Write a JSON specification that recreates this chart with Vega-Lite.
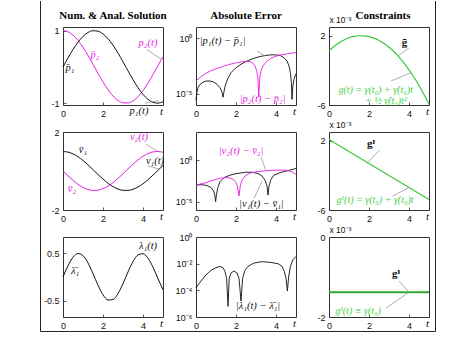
{
"$schema": "https://vega.github.io/schema/vega-lite/v6.json",
"padding": {"left": 39, "top": 0, "right": 2, "bottom": 2},
"bounds": "flush",
"columns": 3,
"spacing": {"row": 27, "column": 33},
"resolve": {"scale": {"x": "independent", "y": "independent"}},
"config": {
 "view": {"stroke": "#333", "strokeWidth": 1},
 "axis": {"grid": false, "domain": false, "tickSize": -3, "tickColor": "#333", "tickWidth": 0.8, "labelFont": "Liberation Sans", "labelFontSize": 9, "labelColor": "#111", "labelPadding": 7, "labelFlush": false, "labelOverlap": false},
 "axisX": {"titleX": 98, "titleY": 6, "titleAlign": "center", "titleBaseline": "middle", "titleFont": "Liberation Serif", "titleFontStyle": "italic", "titleFontWeight": "normal", "titleFontSize": 11, "titleColor": "#111"},
 "axisY": {"titleFont": "Liberation Sans", "titleFontSize": 8.5, "titleFontWeight": "normal", "titleAngle": 0, "titleAlign": "left", "titleBaseline": "bottom", "titleX": 0, "titleY": -3, "titleColor": "#111"},
 "title": {"font": "Liberation Serif", "fontSize": 11, "fontWeight": "bold", "offset": 6, "color": "#000"},
 "text": {"font": "Liberation Serif", "fontStyle": "italic", "fontSize": 10.5}
},
"datasets": {
 "sol": [
  {"t":0,"p1":0,"p2":1,"v1":1,"v2":0,"lam":0,"g":0.000249,"gI":0.00215,"gII":-0.00138},
  {"t":0.25,"p1":0.2474,"p2":0.9689,"v1":0.9689,"v2":-0.2474,"lam":0.2397,"g":0.000753,"gI":0.0018,"gII":-0.00138},
  {"t":0.5,"p1":0.4794,"p2":0.8776,"v1":0.8776,"v2":-0.4794,"lam":0.4207,"g":0.001172,"gI":0.001455,"gII":-0.00138},
  {"t":0.75,"p1":0.6816,"p2":0.7317,"v1":0.7317,"v2":-0.6816,"lam":0.4987,"g":0.001506,"gI":0.001108,"gII":-0.00138},
  {"t":1,"p1":0.8415,"p2":0.5403,"v1":0.5403,"v2":-0.8415,"lam":0.4546,"g":0.001754,"gI":0.00076,"gII":-0.00138},
  {"t":1.25,"p1":0.949,"p2":0.3153,"v1":0.3153,"v2":-0.949,"lam":0.2992,"g":0.001916,"gI":0.000413,"gII":-0.00138},
  {"t":1.5,"p1":0.9975,"p2":0.0707,"v1":0.0707,"v2":-0.9975,"lam":0.0706,"g":0.001993,"gI":0.000065,"gII":-0.00138},
  {"t":1.75,"p1":0.984,"p2":-0.1782,"v1":-0.1782,"v2":-0.984,"lam":-0.1754,"g":0.001985,"gI":-0.000283,"gII":-0.00138},
  {"t":2,"p1":0.9093,"p2":-0.4161,"v1":-0.4161,"v2":-0.9093,"lam":-0.3784,"g":0.001891,"gI":-0.00063,"gII":-0.00138},
  {"t":2.25,"p1":0.7781,"p2":-0.6282,"v1":-0.6282,"v2":-0.7781,"lam":-0.4888,"g":0.001711,"gI":-0.000978,"gII":-0.00138},
  {"t":2.5,"p1":0.5985,"p2":-0.8011,"v1":-0.8011,"v2":-0.5985,"lam":-0.4795,"g":0.001446,"gI":-0.001325,"gII":-0.00138},
  {"t":2.75,"p1":0.3817,"p2":-0.9243,"v1":-0.9243,"v2":-0.3817,"lam":-0.3528,"g":0.001095,"gI":-0.001673,"gII":-0.00138},
  {"t":3,"p1":0.1411,"p2":-0.99,"v1":-0.99,"v2":-0.1411,"lam":-0.1397,"g":0.000659,"gI":-0.00202,"gII":-0.00138},
  {"t":3.25,"p1":-0.1082,"p2":-0.9941,"v1":-0.9941,"v2":0.1082,"lam":0.1075,"g":0.000138,"gI":-0.002368,"gII":-0.00138},
  {"t":3.5,"p1":-0.3508,"p2":-0.9365,"v1":-0.9365,"v2":0.3508,"lam":0.3285,"g":-0.000469,"gI":-0.002715,"gII":-0.00138},
  {"t":3.75,"p1":-0.5716,"p2":-0.8206,"v1":-0.8206,"v2":0.5716,"lam":0.469,"g":-0.001162,"gI":-0.003063,"gII":-0.00138},
  {"t":4,"p1":-0.7568,"p2":-0.6536,"v1":-0.6536,"v2":0.7568,"lam":0.4947,"g":-0.00194,"gI":-0.00341,"gII":-0.00138},
  {"t":4.25,"p1":-0.895,"p2":-0.4461,"v1":-0.4461,"v2":0.895,"lam":0.3992,"g":-0.002803,"gI":-0.003758,"gII":-0.00138},
  {"t":4.5,"p1":-0.9775,"p2":-0.2108,"v1":-0.2108,"v2":0.9775,"lam":0.2061,"g":-0.003752,"gI":-0.004105,"gII":-0.00138},
  {"t":4.75,"p1":-0.9993,"p2":0.0376,"v1":0.0376,"v2":0.9993,"lam":-0.0376,"g":-0.004787,"gI":-0.004453,"gII":-0.00138},
  {"t":5,"p1":-0.9589,"p2":0.2837,"v1":0.2837,"v2":0.9589,"lam":-0.272,"g":-0.005907,"gI":-0.0048,"gII":-0.00138}
 ],
 "ep1": [
  {"t":0,"e":2.512e-6},{"t":0.04,"e":1.259e-5},{"t":0.1,"e":3.548e-5},{"t":0.2,"e":7.079e-5},{"t":0.35,"e":1.122e-4},{"t":0.5,"e":1.413e-4},{"t":0.7,"e":1.413e-4},{"t":0.9,"e":1.122e-4},{"t":1.05,"e":7.079e-5},{"t":1.2,"e":3.548e-5},{"t":1.3,"e":1.413e-5},{"t":1.35,"e":5.012e-6},{"t":1.4,"e":1.585e-5},{"t":1.47,"e":6.31e-5},{"t":1.6,"e":2.512e-4},{"t":1.75,"e":7.943e-4},{"t":2,"e":2.239e-3},{"t":2.25,"e":4.467e-3},{"t":2.5,"e":7.943e-3},{"t":2.75,"e":1.259e-2},{"t":3,"e":1.778e-2},{"t":3.25,"e":2.344e-2},{"t":3.5,"e":2.818e-2},{"t":3.75,"e":3.162e-2},{"t":4,"e":3.162e-2},{"t":4.2,"e":2.818e-2},{"t":4.4,"e":1.778e-2},{"t":4.55,"e":8.913e-3},{"t":4.65,"e":3.162e-3},{"t":4.72,"e":7.943e-4},{"t":4.77,"e":1e-4},{"t":4.8,"e":3.162e-6},{"t":4.84,"e":5.012e-5},{"t":4.9,"e":1.995e-4},{"t":5,"e":6.31e-4}
 ],
 "ep2": [
  {"t":0,"e":1.413e-4},{"t":0.25,"e":3.548e-4},{"t":0.5,"e":7.079e-4},{"t":0.75,"e":1.202e-3},{"t":1,"e":1.778e-3},{"t":1.25,"e":2.512e-3},{"t":1.5,"e":3.548e-3},{"t":1.75,"e":4.786e-3},{"t":2,"e":6.026e-3},{"t":2.25,"e":7.413e-3},{"t":2.5,"e":8.318e-3},{"t":2.7,"e":7.943e-3},{"t":2.85,"e":5.623e-3},{"t":2.95,"e":3.162e-3},{"t":3.03,"e":1.259e-3},{"t":3.09,"e":3.162e-4},{"t":3.14,"e":5.012e-6},{"t":3.19,"e":3.162e-4},{"t":3.25,"e":1.122e-3},{"t":3.35,"e":3.162e-3},{"t":3.5,"e":7.079e-3},{"t":3.75,"e":1.585e-2},{"t":4,"e":2.399e-2},{"t":4.25,"e":3.162e-2},{"t":4.5,"e":3.802e-2},{"t":4.75,"e":4.467e-2},{"t":5,"e":5.012e-2}
 ],
 "ev1": [
  {"t":0,"e":1e-3},{"t":0.3,"e":1.122e-3},{"t":0.55,"e":8.913e-4},{"t":0.75,"e":5.012e-4},{"t":0.88,"e":1.995e-4},{"t":0.94,"e":6.31e-5},{"t":0.98,"e":1e-5},{"t":1.02,"e":6.31e-5},{"t":1.08,"e":3.981e-4},{"t":1.2,"e":2.512e-3},{"t":1.4,"e":7.943e-3},{"t":1.7,"e":1.585e-2},{"t":2,"e":2.399e-2},{"t":2.5,"e":3.548e-2},{"t":2.8,"e":3.548e-2},{"t":3.1,"e":2.512e-2},{"t":3.3,"e":1.259e-2},{"t":3.45,"e":3.981e-3},{"t":3.55,"e":7.943e-4},{"t":3.6,"e":6.31e-5},{"t":3.65,"e":7.943e-4},{"t":3.75,"e":5.012e-3},{"t":3.9,"e":1.585e-2},{"t":4.2,"e":3.162e-2},{"t":4.6,"e":5.623e-2},{"t":5,"e":0.1}
 ],
 "ev2": [
  {"t":0,"e":1e-3},{"t":0.25,"e":1.413e-3},{"t":0.5,"e":1.995e-3},{"t":0.75,"e":3.162e-3},{"t":1,"e":5.012e-3},{"t":1.25,"e":7.079e-3},{"t":1.5,"e":7.943e-3},{"t":1.7,"e":7.079e-3},{"t":1.85,"e":5.012e-3},{"t":1.98,"e":2.512e-3},{"t":2.07,"e":7.943e-4},{"t":2.15,"e":5.012e-5},{"t":2.22,"e":1e-3},{"t":2.3,"e":3.981e-3},{"t":2.45,"e":1.259e-2},{"t":2.7,"e":2.818e-2},{"t":3,"e":3.981e-2},{"t":3.4,"e":5.012e-2},{"t":3.8,"e":6.026e-2},{"t":4.2,"e":6.31e-2},{"t":4.5,"e":6.31e-2},{"t":4.75,"e":4.467e-2},{"t":5,"e":1.995e-2}
 ],
 "el1": [
  {"t":0,"e":1.585e-4},{"t":0.25,"e":5.012e-4},{"t":0.5,"e":1.413e-3},{"t":0.75,"e":3.162e-3},{"t":1,"e":5.012e-3},{"t":1.2,"e":6.31e-3},{"t":1.35,"e":5.012e-3},{"t":1.45,"e":2.512e-3},{"t":1.53,"e":7.943e-4},{"t":1.6,"e":6.31e-6},{"t":1.66,"e":7.943e-4},{"t":1.75,"e":1.995e-3},{"t":1.9,"e":2.818e-3},{"t":2.05,"e":1.995e-3},{"t":2.15,"e":7.943e-4},{"t":2.25,"e":1.585e-5},{"t":2.33,"e":7.943e-4},{"t":2.45,"e":3.162e-3},{"t":2.6,"e":6.31e-3},{"t":2.9,"e":1.122e-2},{"t":3.3,"e":1.413e-2},{"t":3.7,"e":1.259e-2},{"t":4.1,"e":1e-2},{"t":4.3,"e":6.31e-3},{"t":4.42,"e":2.512e-3},{"t":4.5,"e":7.943e-4},{"t":4.57,"e":8.913e-5},{"t":4.63,"e":1e-3},{"t":4.72,"e":6.31e-3},{"t":4.85,"e":1.995e-2},{"t":5,"e":3.548e-2}
 ]
},
"concat": [
 {
  "width": 100, "height": 78,
  "title": "Num. & Anal. Solution",
  "layer": [
   {"data": {"name": "sol"}, "mark": {"type": "line", "color": "#e61ee6", "strokeWidth": 1, "interpolate": "monotone"},
    "encoding": {"x": {"field": "t", "type": "quantitative", "title": "t", "scale": {"domain": [0, 5], "nice": false, "zero": false}, "axis": {"values": [0, 2]}},
     "y": {"field": "p2", "type": "quantitative", "title": null, "scale": {"domain": [-1.05, 1.1], "nice": false, "zero": false}, "axis": {"values": [-1, -0.5, 0, 0.5, 1], "labelExpr": "replace(format(datum.value,'~g'),'\u2212','-')"}}}},
   {"data": {"name": "sol"}, "mark": {"type": "line", "color": "#111", "strokeWidth": 1, "interpolate": "monotone"},
    "encoding": {"x": {"field": "t", "type": "quantitative", "title": "t"}, "y": {"field": "p1", "type": "quantitative", "title": null}}},
   {"data": {"values": [{"t": 4.2, "y": 0.47, "t2": 4.9, "y2": 0.22}, {"t": 4.1, "y": -1.0, "t2": 4.8, "y2": -0.93}]},
    "mark": {"type": "rule", "color": "#999", "strokeWidth": 0.8},
    "encoding": {"x": {"field": "t", "type": "quantitative", "title": "t"}, "y": {"field": "y", "type": "quantitative", "title": null}, "x2": {"field": "t2"}, "y2": {"field": "y2"}}},
   {"data": {"values": [{"t": 0.35, "y": -0.02, "txt": "p̄₁", "k": "a"}, {"t": 1.6, "y": 0.33, "txt": "p̄₂", "k": "b"}, {"t": 4.25, "y": 0.66, "txt": "p₂(t)", "k": "b"}, {"t": 3.8, "y": -1.22, "txt": "p₁(t)", "k": "a"}]},
    "mark": {"type": "text"},
    "encoding": {"x": {"field": "t", "type": "quantitative", "title": "t"}, "y": {"field": "y", "type": "quantitative", "title": null}, "text": {"field": "txt"},
     "color": {"field": "k", "type": "nominal", "scale": {"domain": ["a", "b", "c"], "range": ["#111111", "#e61ee6", "#45d045"]}, "legend": null}}}
  ]
 },
 {
  "width": 100, "height": 78,
  "title": "Absolute Error",
  "layer": [
   {"data": {"name": "ep1"}, "mark": {"type": "line", "color": "#111", "strokeWidth": 0.9},
    "encoding": {"x": {"field": "t", "type": "quantitative", "title": "t", "scale": {"domain": [0, 5], "nice": false, "zero": false}, "axis": {"values": [0, 2, 4]}},
     "y": {"field": "e", "type": "quantitative", "title": null, "scale": {"type": "log", "domain": [1e-6, 10], "nice": false}, "axis": {"values": [1e-5, 1], "labelExpr": "datum.value >= 0.5 ? '10⁰' : '10⁻⁵'"}}}},
   {"data": {"name": "ep2"}, "mark": {"type": "line", "color": "#e61ee6", "strokeWidth": 0.9},
    "encoding": {"x": {"field": "t", "type": "quantitative", "title": "t"}, "y": {"field": "e", "type": "quantitative", "title": null}}},
   {"data": {"values": [{"t": 3.05, "y": 0.07, "t2": 3.45, "y2": 0.025}]},
    "mark": {"type": "rule", "color": "#999", "strokeWidth": 0.8},
    "encoding": {"x": {"field": "t", "type": "quantitative", "title": "t"}, "y": {"field": "y", "type": "quantitative", "title": null}, "x2": {"field": "t2"}, "y2": {"field": "y2"}}},
   {"data": {"values": [{"t": 1.33, "y": 0.55, "txt": "|p₁(t) − p̄₁|", "k": "a"}, {"t": 3.33, "y": 3.2e-6, "txt": "|p₂(t) − p̄₂|", "k": "b"}]},
    "mark": {"type": "text"},
    "encoding": {"x": {"field": "t", "type": "quantitative", "title": "t"}, "y": {"field": "y", "type": "quantitative", "title": null}, "text": {"field": "txt"},
     "color": {"field": "k", "type": "nominal", "scale": {"domain": ["a", "b", "c"], "range": ["#111111", "#e61ee6", "#45d045"]}, "legend": null}}}
  ]
 },
 {
  "width": 100, "height": 78,
  "title": {"text": "Constraints", "offset": -6, "dx": 4},
  "layer": [
   {"data": {"name": "sol"}, "mark": {"type": "line", "color": "#3cc83c", "strokeWidth": 1.2, "interpolate": "monotone"},
    "encoding": {"x": {"field": "t", "type": "quantitative", "title": "t", "scale": {"domain": [0, 5], "nice": false, "zero": false}, "axis": {"values": [0, 2, 4]}},
     "y": {"field": "g", "type": "quantitative", "title": "x 10⁻³", "scale": {"domain": [-0.006, 0.003], "nice": false, "zero": false}, "axis": {"values": [-0.006, -0.004, -0.002, 0, 0.002], "labelExpr": "replace(format(datum.value*1000,'~g'),'\u2212','-')"}}}},
   {"data": {"values": [{"t": 4.0, "y": 0.0006, "t2": 3.45, "y2": -0.00035}, {"t": 3.1, "y": -0.00323, "t2": 4.1, "y2": -0.00227}]},
    "mark": {"type": "rule", "color": "#999", "strokeWidth": 0.8},
    "encoding": {"x": {"field": "t", "type": "quantitative", "title": "t"}, "y": {"field": "y", "type": "quantitative", "title": "x 10⁻³"}, "x2": {"field": "t2"}, "y2": {"field": "y2"}}},
   {"data": {"values": [{"t": 3.78, "y": 0.0012, "txt": "ḡ"}]},
    "mark": {"type": "text", "fontStyle": "normal", "fontWeight": "bold", "color": "#111", "fontSize": 11},
    "encoding": {"x": {"field": "t", "type": "quantitative", "title": "t"}, "y": {"field": "y", "type": "quantitative", "title": "x 10⁻³"}, "text": {"field": "txt"}}},
   {"data": {"values": [{"t": 2.33, "y": -0.00427, "txt": "g(t) = γ(t₀) + γ̇(t₀)t", "k": "c"}, {"t": 2.85, "y": -0.00554, "txt": "+ ½ γ̈(t₀)t²", "k": "c"}]},
    "mark": {"type": "text", "fontSize": 10},
    "encoding": {"x": {"field": "t", "type": "quantitative", "title": "t"}, "y": {"field": "y", "type": "quantitative", "title": "x 10⁻³"}, "text": {"field": "txt"},
     "color": {"field": "k", "type": "nominal", "scale": {"domain": ["a", "b", "c"], "range": ["#111111", "#e61ee6", "#45d045"]}, "legend": null}}}
  ]
 },
 {
  "width": 100, "height": 78,
  "layer": [
   {"data": {"name": "sol"}, "mark": {"type": "line", "color": "#e61ee6", "strokeWidth": 1, "interpolate": "monotone"},
    "encoding": {"x": {"field": "t", "type": "quantitative", "title": "t", "scale": {"domain": [0, 5], "nice": false, "zero": false}, "axis": {"values": [0, 2, 4]}},
     "y": {"field": "v2", "type": "quantitative", "title": null, "scale": {"domain": [-2, 2], "nice": false, "zero": false}, "axis": {"values": [-2, -1, 0, 1, 2], "labelExpr": "replace(format(datum.value,'~g'),'\u2212','-')"}}}},
   {"data": {"name": "sol"}, "mark": {"type": "line", "color": "#111", "strokeWidth": 1, "interpolate": "monotone"},
    "encoding": {"x": {"field": "t", "type": "quantitative", "title": "t"}, "y": {"field": "v1", "type": "quantitative", "title": null}}},
   {"data": {"values": [{"t": 4.15, "y": 1.37, "t2": 4.73, "y2": 1.02}, {"t": 4.23, "y": 0.26, "t2": 4.8, "y2": 0.1}]},
    "mark": {"type": "rule", "color": "#999", "strokeWidth": 0.8},
    "encoding": {"x": {"field": "t", "type": "quantitative", "title": "t"}, "y": {"field": "y", "type": "quantitative", "title": null}, "x2": {"field": "t2"}, "y2": {"field": "y2"}}},
   {"data": {"values": [{"t": 1.0, "y": 1.06, "txt": "v̄₁", "k": "a"}, {"t": 0.45, "y": -0.94, "txt": "v̄₂", "k": "b"}, {"t": 3.8, "y": 1.72, "txt": "v₂(t)", "k": "b"}, {"t": 4.6, "y": 0.5, "txt": "v₁(t)", "k": "a"}]},
    "mark": {"type": "text"},
    "encoding": {"x": {"field": "t", "type": "quantitative", "title": "t"}, "y": {"field": "y", "type": "quantitative", "title": null}, "text": {"field": "txt"},
     "color": {"field": "k", "type": "nominal", "scale": {"domain": ["a", "b", "c"], "range": ["#111111", "#e61ee6", "#45d045"]}, "legend": null}}}
  ]
 },
 {
  "width": 100, "height": 78,
  "layer": [
   {"data": {"name": "ev1"}, "mark": {"type": "line", "color": "#111", "strokeWidth": 0.9},
    "encoding": {"x": {"field": "t", "type": "quantitative", "title": "t", "scale": {"domain": [0, 5], "nice": false, "zero": false}, "axis": {"values": [0, 2, 4]}},
     "y": {"field": "e", "type": "quantitative", "title": null, "scale": {"type": "log", "domain": [1e-6, 2500], "nice": false}, "axis": {"values": [1e-5, 1], "labelExpr": "datum.value >= 0.5 ? '10⁰' : '10⁻⁵'"}}}},
   {"data": {"name": "ev2"}, "mark": {"type": "line", "color": "#e61ee6", "strokeWidth": 0.9},
    "encoding": {"x": {"field": "t", "type": "quantitative", "title": "t"}, "y": {"field": "e", "type": "quantitative", "title": null}}},
   {"data": {"values": [{"t": 3.25, "y": 2.5, "t2": 3.5, "y2": 0.05}, {"t": 2.9, "y": 2.5e-5, "t2": 3.3, "y2": 0.003}]},
    "mark": {"type": "rule", "color": "#999", "strokeWidth": 0.8},
    "encoding": {"x": {"field": "t", "type": "quantitative", "title": "t"}, "y": {"field": "y", "type": "quantitative", "title": null}, "x2": {"field": "t2"}, "y2": {"field": "y2"}}},
   {"data": {"values": [{"t": 2.25, "y": 12.6, "txt": "|v₂(t) − v̄₂|", "k": "b"}, {"t": 3.27, "y": 5e-6, "txt": "|v₁(t) − v̄₁|", "k": "a"}]},
    "mark": {"type": "text"},
    "encoding": {"x": {"field": "t", "type": "quantitative", "title": "t"}, "y": {"field": "y", "type": "quantitative", "title": null}, "text": {"field": "txt"},
     "color": {"field": "k", "type": "nominal", "scale": {"domain": ["a", "b", "c"], "range": ["#111111", "#e61ee6", "#45d045"]}, "legend": null}}}
  ]
 },
 {
  "width": 100, "height": 78,
  "layer": [
   {"data": {"name": "sol"}, "mark": {"type": "line", "color": "#3cc83c", "strokeWidth": 1.2},
    "encoding": {"x": {"field": "t", "type": "quantitative", "title": "t", "scale": {"domain": [0, 5], "nice": false, "zero": false}, "axis": {"values": [0, 2, 4]}},
     "y": {"field": "gI", "type": "quantitative", "title": "x 10⁻³", "scale": {"domain": [-0.006, 0.003], "nice": false, "zero": false}, "axis": {"values": [-0.006, -0.004, -0.002, 0, 0.002], "labelExpr": "replace(format(datum.value*1000,'~g'),'\u2212','-')"}}}},
   {"data": {"values": [{"t": 2.52, "y": 0.0009, "t2": 1.93, "y2": -0.00053}, {"t": 3.18, "y": -0.0044, "t2": 4.0, "y2": -0.00341}]},
    "mark": {"type": "rule", "color": "#999", "strokeWidth": 0.8},
    "encoding": {"x": {"field": "t", "type": "quantitative", "title": "t"}, "y": {"field": "y", "type": "quantitative", "title": "x 10⁻³"}, "x2": {"field": "t2"}, "y2": {"field": "y2"}}},
   {"data": {"values": [{"t": 2.1, "y": 0.00167, "txt": "gᴵ"}]},
    "mark": {"type": "text", "fontStyle": "normal", "fontWeight": "bold", "color": "#111", "fontSize": 11},
    "encoding": {"x": {"field": "t", "type": "quantitative", "title": "t"}, "y": {"field": "y", "type": "quantitative", "title": "x 10⁻³"}, "text": {"field": "txt"}}},
   {"data": {"values": [{"t": 2.3, "y": -0.0049, "txt": "gᴵ(t) = γ(t₀) + γ̇(t₀)t", "k": "c"}]},
    "mark": {"type": "text", "fontSize": 10},
    "encoding": {"x": {"field": "t", "type": "quantitative", "title": "t"}, "y": {"field": "y", "type": "quantitative", "title": "x 10⁻³"}, "text": {"field": "txt"},
     "color": {"field": "k", "type": "nominal", "scale": {"domain": ["a", "b", "c"], "range": ["#111111", "#e61ee6", "#45d045"]}, "legend": null}}}
  ]
 },
 {
  "width": 100, "height": 80,
  "layer": [
   {"data": {"name": "sol"}, "mark": {"type": "line", "color": "#111", "strokeWidth": 1, "interpolate": "monotone"},
    "encoding": {"x": {"field": "t", "type": "quantitative", "title": "t", "scale": {"domain": [0, 5], "nice": false, "zero": false}, "axis": {"values": [0, 2, 4]}},
     "y": {"field": "lam", "type": "quantitative", "title": null, "scale": {"domain": [-0.85, 0.85], "nice": false, "zero": false}, "axis": {"values": [-0.5, 0, 0.5], "labelExpr": "replace(format(datum.value,'~g'),'\u2212','-')"}}}},
   {"data": {"values": [{"t": 0.6, "y": 0.13, "txt": "λ̄₁", "k": "a"}, {"t": 4.25, "y": 0.66, "txt": "λ₁(t)", "k": "a"}]},
    "mark": {"type": "text"},
    "encoding": {"x": {"field": "t", "type": "quantitative", "title": "t"}, "y": {"field": "y", "type": "quantitative", "title": null}, "text": {"field": "txt"},
     "color": {"field": "k", "type": "nominal", "scale": {"domain": ["a", "b", "c"], "range": ["#111111", "#e61ee6", "#45d045"]}, "legend": null}}},
   {"data": {"values": [{}]}, "mark": {"type": "rule", "color": "#222", "strokeWidth": 1, "clip": false},
    "encoding": {"x": {"datum": -1.125}, "y": {"datum": 5.865}, "y2": {"datum": -1.158}}},
   {"data": {"values": [{}]}, "mark": {"type": "rule", "color": "#222", "strokeWidth": 1, "clip": false},
    "encoding": {"x": {"datum": -1.125}, "x2": {"datum": 18.625}, "y": {"datum": -1.158}}}
  ]
 },
 {
  "width": 100, "height": 80,
  "layer": [
   {"data": {"name": "el1"}, "mark": {"type": "line", "color": "#111", "strokeWidth": 0.9},
    "encoding": {"x": {"field": "t", "type": "quantitative", "title": "t", "scale": {"domain": [0, 5], "nice": false, "zero": false}, "axis": {"values": [0, 2, 4]}},
     "y": {"field": "e", "type": "quantitative", "title": null, "scale": {"type": "log", "domain": [1e-6, 1], "nice": false}, "axis": {"values": [1e-6, 1e-4, 1e-2, 1], "labelExpr": "datum.value >= 0.5 ? '10⁰' : datum.value >= 0.005 ? '10⁻²' : datum.value >= 0.00005 ? '10⁻⁴' : '10⁻⁶'"}}}},
   {"data": {"values": [{"t": 3.1, "y": 6.3e-6, "txt": "|λ₁(t) − λ̄₁|", "k": "a"}]},
    "mark": {"type": "text"},
    "encoding": {"x": {"field": "t", "type": "quantitative", "title": "t"}, "y": {"field": "y", "type": "quantitative", "title": null}, "text": {"field": "txt"},
     "color": {"field": "k", "type": "nominal", "scale": {"domain": ["a", "b", "c"], "range": ["#111111", "#e61ee6", "#45d045"]}, "legend": null}}}
  ]
 },
 {
  "width": 100, "height": 80,
  "layer": [
   {"data": {"name": "sol"}, "mark": {"type": "line", "color": "#3cc83c", "strokeWidth": 2},
    "encoding": {"x": {"field": "t", "type": "quantitative", "title": "t", "scale": {"domain": [0, 5], "nice": false, "zero": false}, "axis": {"values": [0, 2, 4]}},
     "y": {"field": "gII", "type": "quantitative", "title": "x 10⁻³", "scale": {"domain": [-0.002, 0], "nice": false, "zero": false}, "axis": {"values": [-0.002, -0.0015, -0.001, -0.0005, 0], "labelExpr": "replace(format(datum.value*1000,'~g'),'\u2212','-')"}}}},
   {"data": {"name": "sol"}, "mark": {"type": "line", "color": "#236b23", "strokeWidth": 0.6},
    "encoding": {"x": {"field": "t", "type": "quantitative", "title": "t"}, "y": {"field": "gII", "type": "quantitative", "title": "x 10⁻³"}}},
   {"data": {"values": [{"t": 3.5, "y": -0.0011, "t2": 4.0, "y2": -0.00138}, {"t": 2.85, "y": -0.00178, "t2": 4.0, "y2": -0.00138}]},
    "mark": {"type": "rule", "color": "#999", "strokeWidth": 0.8},
    "encoding": {"x": {"field": "t", "type": "quantitative", "title": "t"}, "y": {"field": "y", "type": "quantitative", "title": "x 10⁻³"}, "x2": {"field": "t2"}, "y2": {"field": "y2"}}},
   {"data": {"values": [{"t": 3.35, "y": -0.00093, "txt": "gᴵ"}]},
    "mark": {"type": "text", "fontStyle": "normal", "fontWeight": "bold", "color": "#111", "fontSize": 11},
    "encoding": {"x": {"field": "t", "type": "quantitative", "title": "t"}, "y": {"field": "y", "type": "quantitative", "title": "x 10⁻³"}, "text": {"field": "txt"}}},
   {"data": {"values": [{"t": 1.45, "y": -0.00185, "txt": "gᴵ(t) ≡ γ(t₀)", "k": "c"}]},
    "mark": {"type": "text", "fontSize": 10},
    "encoding": {"x": {"field": "t", "type": "quantitative", "title": "t"}, "y": {"field": "y", "type": "quantitative", "title": "x 10⁻³"}, "text": {"field": "txt"},
     "color": {"field": "k", "type": "nominal", "scale": {"domain": ["a", "b", "c"], "range": ["#111111", "#e61ee6", "#45d045"]}, "legend": null}}},
   {"data": {"values": [{}]}, "mark": {"type": "rule", "color": "#222", "strokeWidth": 1, "clip": false},
    "encoding": {"x": {"datum": 5.325}, "y": {"datum": 0.0059}, "y2": {"datum": -0.0023625}}}
  ]
 }
]
}
